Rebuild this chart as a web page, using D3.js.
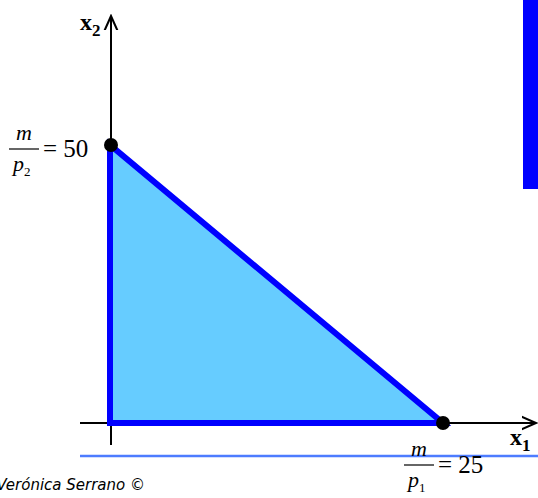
<!DOCTYPE html>
<html><head><meta charset="utf-8">
<script src="https://cdn.jsdelivr.net/npm/d3@7"></script>
<style>body{margin:0;background:#fff}svg{display:block}.serif{font-family:"Liberation Serif","Times New Roman",Times,serif}</style>
</head><body>
<svg id="c" width="538" height="498"></svg>
<script>
const intercepts = [{axis:"x1", value:25}, {axis:"x2", value:50}];
const budgetSet = [[0,0],[0,50],[25,0]];
const axisLabels = ["x", "x"];
const interceptLabels = ["= 50", "= 25"];

const svg = d3.select("#c");
const x = d3.scaleLinear().domain([0,25]).range([110,443]);
const y = d3.scaleLinear().domain([0,50]).range([423,145]);

// right blue bar
svg.append("rect").attr("x",523).attr("y",0).attr("width",15).attr("height",189).attr("fill","#0000ff");
// bottom light blue line
svg.append("line").attr("x1",80).attr("x2",538).attr("y1",456).attr("y2",456).attr("stroke","#4d7cff").attr("stroke-width",2.5);

// axes
svg.append("defs").append("marker").attr("id","ar").attr("viewBox","0 0 10 10").attr("refX",9).attr("refY",5)
  .attr("markerWidth",8).attr("markerHeight",8).attr("orient","auto")
  .append("path").attr("d","M0,1 L9,5 L0,9").attr("fill","none").attr("stroke","#000").attr("stroke-width",1.3);
svg.append("line").attr("x1",x(0)+1).attr("x2",x(0)+1).attr("y1",445).attr("y2",16).attr("stroke","#000").attr("stroke-width",2).attr("marker-end","url(#ar)");
svg.append("line").attr("x1",80).attr("x2",536).attr("y1",y(0)).attr("y2",y(0)).attr("stroke","#000").attr("stroke-width",2).attr("marker-end","url(#ar)");

// budget set
svg.append("path").datum(budgetSet)
  .attr("d", d3.line().x(d=>x(d[0])).y(d=>y(d[1])).curve(d3.curveLinearClosed))
  .attr("fill","#66ccff").attr("stroke","#0000ff").attr("stroke-width",6).attr("stroke-linejoin","miter");

// intercept dots
svg.selectAll("circle.pt").data(intercepts).join("circle")
  .attr("cx", d=> d.axis==="x1" ? x(d.value) : x(0)+1)
  .attr("cy", d=> d.axis==="x1" ? y(0) : y(d.value))
  .attr("r",7).attr("fill","#000");

// axis labels
const t2 = svg.append("text").attr("class","serif").attr("x",80).attr("y",30).attr("font-weight","bold").attr("font-size",24);
t2.append("tspan").text(axisLabels[1]);
t2.append("tspan").attr("font-size",17).attr("dy",6).text("2");
const t1 = svg.append("text").attr("class","serif").attr("x",510).attr("y",445).attr("font-weight","bold").attr("font-size",24);
t1.append("tspan").text(axisLabels[0]);
t1.append("tspan").attr("font-size",17).attr("dy",6).text("1");

// fraction labels
function frac(cx, lineY, sub, label){
  const g = svg.append("g");
  g.append("text").attr("class","serif").attr("x",cx).attr("y",lineY-9).attr("text-anchor","middle").attr("font-style","italic").attr("font-size",22).text("m");
  g.append("line").attr("x1",cx-15).attr("x2",cx+15).attr("y1",lineY).attr("y2",lineY).attr("stroke","#000").attr("stroke-width",1.2);
  g.append("text").attr("class","serif").attr("x",cx-11).attr("y",lineY+22).attr("font-style","italic").attr("font-size",22).text("p");
  g.append("text").attr("class","serif").attr("x",cx).attr("y",lineY+27).attr("font-size",13).text(sub);
  g.append("text").attr("class","serif").attr("x",cx+19).attr("y",lineY+8).attr("font-size",25).text(label);
}
frac(24, 149, "2", interceptLabels[0]);
frac(419, 465, "1", interceptLabels[1]);

svg.append("text").attr("x",145).attr("y",490).attr("text-anchor","end")
  .attr("font-family","'DejaVu Sans',Verdana,sans-serif").attr("font-style","italic").attr("font-size",15)
  .text("Verónica Serrano ©");
</script>
</body></html>
